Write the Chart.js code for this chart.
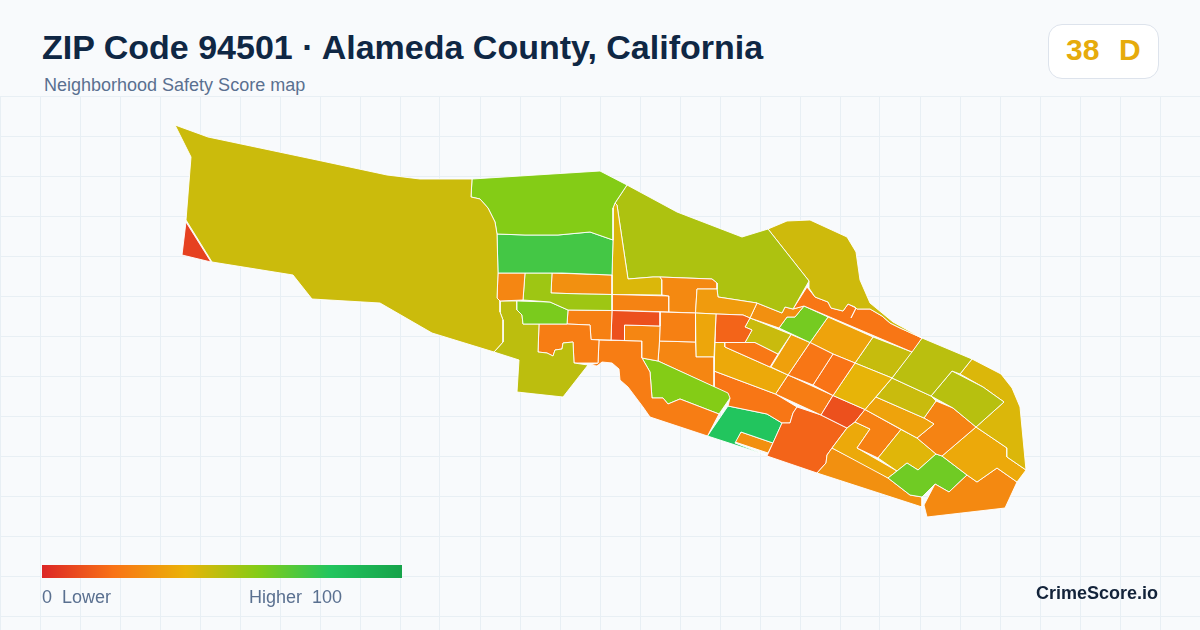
<!DOCTYPE html>
<html><head><meta charset="utf-8">
<script src="https://cdn.jsdelivr.net/npm/chart.js@4"></script>
<style>
html,body{margin:0;padding:0;background:#f8fafc}
body{width:1200px;height:630px;position:relative;overflow:hidden;font-family:"Liberation Sans",Arial,sans-serif}
#map{position:absolute;left:0;top:96px}
.t{position:absolute;white-space:pre;line-height:1}
#title{left:42px;top:30px;font-size:34px;font-weight:700;color:#0f2744}
#sub{left:44px;top:76px;font-size:18px;color:#5a7090}
#badge{position:absolute;left:1048px;top:24px;width:109px;height:53px;background:#fff;border:1px solid #dde3ec;border-radius:14px}
#score{left:1066px;top:35px;font-size:30px;font-weight:700;color:#e6ab0c;word-spacing:1.5px}
#bar{position:absolute;left:42px;top:565px;width:360px;height:13px;background:linear-gradient(90deg,#dc2626 0%,#f97316 20%,#eab308 40%,#84cc16 60%,#22c55e 80%,#16a34a 100%)}
#lo{left:42px;top:588px;font-size:18px;color:#5a7090}
#hi{left:249px;top:588px;font-size:18px;color:#5a7090}
#brand{left:1036px;top:584px;font-size:18px;font-weight:700;color:#13233a}
</style></head><body>
<canvas id="map" width="1200" height="534"></canvas>
<div id="title" class="t">ZIP Code 94501 · Alameda County, California</div>
<div id="sub" class="t">Neighborhood Safety Score map</div>
<div id="badge"></div>
<div id="score" class="t">38  D</div>
<div id="bar"></div>
<div id="lo" class="t">0  Lower</div>
<div id="hi" class="t">Higher  100</div>
<div id="brand" class="t">CrimeScore.io</div>
<script>
// Safety score (0-100) of each census tract
const tractScores=[46,7,60,73,26,55,29,62,49,23,24,11,26,23,60,24,26,36,16,32.5,27,25,43,52,45.5,21,29,63,46.5,21.5,34,37,21,20,40.5,35,47,49.4,50,43,46.5,35,25,37,27,64,42,24,37,29,11,23,16,21,80,29];
// Tract outlines in map units (x, y pairs)
const tractOutlines=[
[175,125,208,137,317,160,387,175,420,179,472,179,471,197,480,199,488,208,495,222,497,234,498,273,497,298,500,301,500,312,503,320,503,342,494,352,432,333,380,303,312,299,293,275,212,262,186,220,191,157],
[186,222,211,262,182,255],
[472,179,600,171,627,185,615,203,613,208,613,240,590,232,558,235,525,235,497,234,495,222,488,208,480,199,471,197],
[497,234,525,235,558,235,590,232,613,240,612,275,562,273,498,273],
[498,273,525,273,523,300,500,301,497,298],
[525,273,552,273,551,293,582,294,612,294.5,612,310.5,568,310,550,302,523,300],
[552,273,612,275,612,294.5,582,294,551,293],
[517,301,550,302,568,310,567,324,523,324,522,315,517,310],
[500,301,517,301,517,310,522,315,523,324,539,324,538,352,547,353,553,356,555,350,562,349,563,343,573,342,574,363,588,365,563,397,517,392,519,360,494,352,503,342,503,320,500,312],
[539,324,567,324,590,325,591,339.5,599,340,598,363,574,363,573,342,563,343,562,349,555,350,553,356,547,353,538,352],
[568,310,612,310.5,611,340,591,339.5,590,325,567,324],
[612,310.5,660,312,660,326,624.5,325,624.5,340.5,611,340],
[624.5,325,660,326,659.5,341,658,361,642,358,642,341,624.5,340.5],
[599,340,642,341,642,358,650,372,652,398,663,398,668,404,680,399,719,414,707.5,436,650,417,643,407,628,387,620,380,619,369,612,363,602,362,597,366,590,365,598,363],
[642,358,658,361,728,393,730,398,719,414,680,399,668,404,663,398,652,398,650,372],
[660,312,695.5,313,695.5,342,659.5,341,660,326],
[659.5,341,695.5,342,696,357,714,357,714,387,658,361],
[695.5,313,716,314,714,357,696,357],
[716,314,743,315,750,318,745,327,752,330,745,342.5,715,342.5],
[697,289,717,289,718,297,757,303,750,318,743,315,716,314,695.5,313],
[660,277,712,279,717,283,717,289,697,289,695.5,313,669,312,669,296,662,295,662,280],
[612,294.5,669,296,669,312,637,311,612,310.5],
[613,208,615,203,617,205,628,279,653,277,660,277,662,280,662,295,612,294.5,612,275,613,240],
[627,185,677,212,742,237,768,229,809,281,793,309,785,307,782,313,757,303,718,297,717,289,717,283,712,279,660,277,653,277,628,279,617,205,615,203],
[768,229,787,221,810,220,847,237,856,252,860,280,870,303,893,322,922,338,900,328,890,323,882,316,870,309,857,309,855,307,848,304,843,311,831,308,828,302,815,297,809,288,809,281],
[807,287,815,297,828,302,831,308,843,311,848,304,856,308,851,318,856,308,857,309,870,309,882,316,890,323,900,328,922,338,912,352,804,306,793,309],
[757,303,782,313,785,307,793,309,804,306,795,317,787,317,779,328,750,318],
[804,306,828,317,810,342.5,779,328,787,317,795,317],
[750,318,791,334.5,778,354,755,342.5,745,342.5,752,330,745,327],
[725,342.5,755,342.5,778,354,770,367,725,347],
[791,334.5,810,342.5,788,375,771,367],
[715,342.5,725,342.5,725,347,788,375,775.5,394,714,371],
[810,342.5,833,354,813,385,788,375],
[833,354,855,363,833,395.5,813,385],
[855,363,892,378,865,409.5,833,395.5],
[828,317,873,337,855,363,833,354,810,342.5],
[873,337,912,352,892,378,855,363],
[922,338,972,359,960,374,952,371,931,396,892,378],
[952,371,983,387,1004,402,976,427,953,408,931,396],
[972,359,1001,374,1012,388,1020,407,1026,470,1007,457,1007,448,976,427,1004,402,983,387,960,374],
[892,378,931,396,936,401,924,418,876,397],
[876,397,924,418,934,424,917,438,865,409.5],
[936,401,953,408,976,427,942,456,936,454,917,438,934,424,924,418],
[976,427,1007,448,1007,457,1026,470,1017,482,997,468,977,482,967,475,942,456],
[1017,482,1005,508,927,517,924,505,935,484,949,492,967,475,977,482,997,468],
[936,454,942,456,967,475,949,492,935,484,922,497,910,495,888,478,897,471,907,463,918,470],
[901,429.5,917,438,936,454,918,470,907,463,897,471,878,458],
[865,409.5,901,429.5,878,458,857,448,870,429,855,422],
[855,422,870,429,857,448,897,471,888,478,832,448,847,428],
[832,448,875,470,888,478,910,495,922,497,922,507,817,473,826,463,827,455],
[833,395.5,865,409.5,855,422,847,428,821,415],
[788,375,833,395.5,821,415,775.5,394],
[797,407,821,415,847,428,832,448,827,455,826,463,817,473,767,456,782,423,790,423,793,413],
[714,371,775.5,394,797,407,793,413,790,423,782,423,767,414,728,406,730,398,714,387],
[728,406,767,414,782,423,773,443,741,432,735,443,766,455,707.5,436],
[741,432,773,443,768,453,735,442]
];
// Legend colour ramp: score stop and colour
const rampStops=[0,20,40,60,80,100];
const rampColors=[[220,38,38],[249,115,22],[234,179,8],[132,204,22],[34,197,94],[22,163,74]];
function scoreColor(s){
  let i=0;while(i<rampStops.length-2&&s>rampStops[i+1])i++;
  const t=(s-rampStops[i])/(rampStops[i+1]-rampStops[i]);
  const c=rampColors[i].map((v,k)=>Math.round(v+(rampColors[i+1][k]-v)*t));
  return `rgb(${c[0]},${c[1]},${c[2]})`;
}
function toPoints(a){
  const p=[];for(let i=0;i<a.length;i+=2)p.push({x:a[i],y:a[i+1]});
  p.push({x:a[0],y:a[1]});return p;
}
const datasets=tractOutlines.map((o,i)=>({
  data:toPoints(o),showLine:true,fill:'shape',
  backgroundColor:scoreColor(tractScores[i]),borderColor:'#ffffff',borderWidth:0.9,
  pointRadius:0,tension:0,borderJoinStyle:'round',clip:false
}));
const every=(start,end,step)=>{const t=[];for(let v=start;v<=end;v+=step)t.push({value:v});return t;};
new Chart(document.getElementById('map'),{
  type:'scatter',
  data:{datasets},
  options:{
    responsive:false,animation:false,devicePixelRatio:1,
    layout:{padding:0},
    plugins:{legend:{display:false},tooltip:{enabled:false}},
    events:[],
    scales:{
      x:{type:'linear',min:0,max:1200,
        afterBuildTicks:s=>{s.ticks=every(0,1200,40);},
        ticks:{display:false},border:{display:false},
        grid:{color:'#e8eff4',lineWidth:1,drawTicks:false,offset:false}},
      y:{type:'linear',min:96,max:630,reverse:true,
        afterBuildTicks:s=>{s.ticks=every(96,630,40);},
        ticks:{display:false},border:{display:false},
        grid:{color:'#e8eff4',lineWidth:1,drawTicks:false}}
    }
  }
});
</script>
</body></html>
